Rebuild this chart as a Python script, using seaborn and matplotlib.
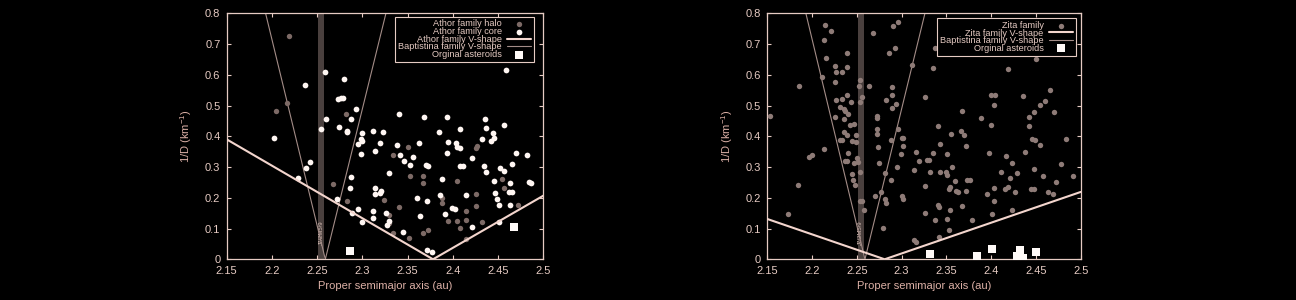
import matplotlib
matplotlib.use("Agg")
import matplotlib.pyplot as plt
import seaborn as sns

# ---------------- data ----------------
halo_a = [2.219, 2.204, 2.217, 2.267, 2.282, 2.283, 2.324, 2.334, 2.340, 2.350, 2.353, 2.367,
          2.367, 2.329, 2.329, 2.351, 2.367, 2.372, 2.334, 2.425, 2.427, 2.405, 2.388, 2.388,
          2.425, 2.425, 2.415, 2.395, 2.404, 2.415, 2.432, 2.408, 2.415, 2.454, 2.456, 2.472]
halo_D = [0.726, 0.482, 0.507, 0.244, 0.471, 0.190, 0.193, 0.339, 0.171, 0.366, 0.272, 0.272,
          0.249, 0.144, 0.117, 0.068, 0.087, 0.095, 0.087, 0.363, 0.368, 0.256, 0.198, 0.184,
          0.211, 0.174, 0.158, 0.126, 0.126, 0.128, 0.122, 0.103, 0.067, 0.261, 0.231, 0.177]

core_a = [2.259, 2.237, 2.260, 2.254, 2.202, 2.242, 2.238, 2.229,
          2.280, 2.273, 2.276, 2.279, 2.293, 2.287, 2.274, 2.283, 2.283,
          2.340, 2.368, 2.385, 2.300, 2.312, 2.323, 2.298, 2.300, 2.295, 2.319, 2.338,
          2.298, 2.314, 2.362, 2.342, 2.346, 2.356, 2.353, 2.370, 2.373, 2.329, 2.287,
          2.286, 2.314, 2.321, 2.319, 2.314, 2.360, 2.371, 2.272, 2.295, 2.288, 2.312,
          2.300, 2.312, 2.326, 2.329, 2.327, 2.364, 2.345, 2.371, 2.377,
          2.459, 2.393, 2.435, 2.408, 2.437, 2.457, 2.444, 2.445, 2.442, 2.395, 2.403,
          2.405, 2.408, 2.432, 2.421, 2.393, 2.470, 2.482, 2.408, 2.411, 2.434, 2.452,
          2.457, 2.465, 2.437, 2.388, 2.445, 2.463, 2.484, 2.486, 2.462, 2.465, 2.447,
          2.414, 2.449, 2.451, 2.463, 2.386, 2.399, 2.402, 2.391, 2.421, 2.451]
core_D = [0.610, 0.567, 0.456, 0.424, 0.394, 0.315, 0.298, 0.265,
          0.586, 0.520, 0.523, 0.525, 0.488, 0.456, 0.429, 0.418, 0.413,
          0.473, 0.464, 0.413, 0.410, 0.417, 0.413, 0.390, 0.385, 0.374, 0.377, 0.372,
          0.342, 0.353, 0.377, 0.339, 0.321, 0.334, 0.307, 0.307, 0.304, 0.280, 0.269,
          0.233, 0.233, 0.222, 0.217, 0.211, 0.198, 0.190, 0.195, 0.164, 0.152, 0.158,
          0.122, 0.133, 0.150, 0.125, 0.112, 0.141, 0.088, 0.030, 0.023,
          0.616, 0.464, 0.456, 0.423, 0.428, 0.437, 0.410, 0.396, 0.386, 0.381, 0.377,
          0.366, 0.361, 0.391, 0.329, 0.347, 0.347, 0.339, 0.304, 0.304, 0.304, 0.298,
          0.288, 0.310, 0.283, 0.260, 0.255, 0.247, 0.252, 0.247, 0.220, 0.220, 0.215,
          0.209, 0.196, 0.177, 0.177, 0.209, 0.166, 0.164, 0.147, 0.106, 0.122]

athor_orig_a = [2.286, 2.468]
athor_orig_D = [0.028, 0.106]

athor_v_a = [2.15, 2.378, 2.50]
athor_v_D = [0.390, 0.0, 0.207]

bapt_v_a = [2.193, 2.259, 2.326]
bapt_v_D = [0.8, 0.0, 0.8]

zita_a = [2.214, 2.221, 2.213, 2.239, 2.216, 2.226, 2.239, 2.227, 2.233, 2.211, 2.226, 2.253,
          2.252, 2.263, 2.185, 2.239, 2.256, 2.253, 2.227, 2.233, 2.243, 2.231, 2.236, 2.237,
          2.240, 2.225, 2.236, 2.242, 2.247, 2.236, 2.239, 2.249, 2.231, 2.233, 2.245, 2.249,
          2.240, 2.250, 2.237, 2.239, 2.247, 2.251, 2.253, 2.245, 2.246, 2.248, 2.200, 2.196,
          2.213, 2.184, 2.153, 2.173, 2.253, 2.256, 2.258,
          2.268, 2.290, 2.296, 2.293, 2.286, 2.311, 2.337, 2.335, 2.289, 2.283, 2.289, 2.294,
          2.289, 2.272, 2.272, 2.272, 2.272, 2.296, 2.326, 2.367, 2.341, 2.355, 2.366, 2.370,
          2.300, 2.302, 2.288, 2.302, 2.274, 2.343, 2.372, 2.299, 2.316, 2.328, 2.330, 2.335,
          2.351, 2.319, 2.275, 2.295, 2.356, 2.314, 2.332, 2.343, 2.350, 2.351, 2.281, 2.288,
          2.360, 2.373, 2.376, 2.326, 2.354, 2.353, 2.361, 2.363, 2.372, 2.277, 2.300, 2.301,
          2.270, 2.281, 2.283, 2.341, 2.342, 2.354, 2.367, 2.326, 2.337, 2.351, 2.378, 2.279,
          2.353, 2.314, 2.316, 2.342,
          2.450, 2.419, 2.466, 2.400, 2.404, 2.435, 2.460, 2.454, 2.403, 2.470, 2.448, 2.389,
          2.442, 2.400, 2.442, 2.446, 2.449, 2.455, 2.483, 2.398, 2.438, 2.416, 2.423, 2.478,
          2.448, 2.411, 2.429, 2.458, 2.491, 2.472, 2.421, 2.403, 2.415, 2.419, 2.427, 2.445,
          2.448, 2.463, 2.469, 2.395, 2.403, 2.423, 2.401]
zita_D = [0.762, 0.744, 0.713, 0.670, 0.653, 0.627, 0.625, 0.609, 0.609, 0.592, 0.576, 0.582,
          0.562, 0.564, 0.564, 0.535, 0.527, 0.511, 0.519, 0.521, 0.510, 0.494, 0.490, 0.481,
          0.474, 0.462, 0.457, 0.438, 0.440, 0.413, 0.403, 0.403, 0.389, 0.387, 0.384, 0.381,
          0.346, 0.330, 0.321, 0.321, 0.314, 0.316, 0.283, 0.278, 0.259, 0.243, 0.338, 0.332,
          0.359, 0.243, 0.467, 0.146, 0.191, 0.191, 0.159,
          0.735, 0.759, 0.771, 0.687, 0.670, 0.632, 0.687, 0.622, 0.560, 0.519, 0.533, 0.505,
          0.492, 0.467, 0.459, 0.425, 0.409, 0.425, 0.528, 0.481, 0.432, 0.409, 0.416, 0.403,
          0.395, 0.395, 0.389, 0.370, 0.364, 0.375, 0.368, 0.343, 0.348, 0.324, 0.324, 0.346,
          0.341, 0.319, 0.314, 0.300, 0.300, 0.289, 0.284, 0.284, 0.284, 0.274, 0.281, 0.257,
          0.256, 0.257, 0.257, 0.238, 0.235, 0.227, 0.222, 0.220, 0.222, 0.218, 0.205, 0.195,
          0.205, 0.195, 0.184, 0.178, 0.170, 0.159, 0.173, 0.149, 0.127, 0.132, 0.128, 0.101,
          0.095, 0.063, 0.056, 0.072,
          0.651, 0.619, 0.551, 0.535, 0.533, 0.530, 0.516, 0.503, 0.501, 0.479, 0.479, 0.459,
          0.462, 0.436, 0.432, 0.391, 0.389, 0.373, 0.391, 0.346, 0.349, 0.337, 0.314, 0.311,
          0.294, 0.284, 0.281, 0.272, 0.272, 0.251, 0.265, 0.232, 0.227, 0.235, 0.218, 0.227,
          0.227, 0.219, 0.213, 0.211, 0.191, 0.159, 0.148]

zita_orig_a = [2.332, 2.384, 2.401, 2.432, 2.429, 2.435, 2.450]
zita_orig_D = [0.018, 0.011, 0.035, 0.029, 0.011, 0.005, 0.024]

zita_v_a = [2.15, 2.281, 2.50]
zita_v_D = [0.131, 0.0, 0.219]

resonance_band = (2.2508, 2.2578)
resonance_label = "J7/2M5/9"

x_ticks = [2.15, 2.2, 2.25, 2.3, 2.35, 2.4, 2.45, 2.5]
y_ticks = [0, 0.1, 0.2, 0.3, 0.4, 0.5, 0.6, 0.7, 0.8]
x_label = "Proper semimajor axis (au)"
y_label = "1/D (km$^{-1}$)"

# ---------------- style ----------------
sns.set_theme(style="ticks")
BG = "#000000"
FG = "#e6cbc3"
LABEL = "#dcb0a6"
plt.rcParams["font.family"] = ["Liberation Sans", "DejaVu Sans"]
plt.rcParams["mathtext.fontset"] = "custom"
plt.rcParams["mathtext.rm"] = "Liberation Sans"

HALO_C = "#7d6a66"
CORE_C = "#fff6f2"
ZITA_C = "#8e7b77"
VLINE_C = "#f3d5cd"
BAPT_C = "#a38c87"
BAND_C = "#4a403e"
SQ_C = "#fffaf8"

fig = plt.figure(figsize=(12.96, 3.0), dpi=100, facecolor=BG)
ax1 = fig.add_axes([0.1749, 0.1357, 0.2444, 0.8200])
ax2 = fig.add_axes([0.5921, 0.1357, 0.2418, 0.8200])


def style_axes(ax):
    ax.set_facecolor(BG)
    ax.set_xlim(2.15, 2.5)
    ax.set_ylim(0, 0.8)
    ax.set_xticks(x_ticks)
    ax.set_xticklabels(["2.15", "2.2", "2.25", "2.3", "2.35", "2.4", "2.45", "2.5"])
    ax.set_yticks(y_ticks)
    ax.set_yticklabels(["0", "0.1", "0.2", "0.3", "0.4", "0.5", "0.6", "0.7", "0.8"])
    for s in ax.spines.values():
        s.set_color(FG)
        s.set_linewidth(0.9)
        s.set_visible(True)
    ax.tick_params(axis="both", direction="in", length=3, width=0.8, color=FG,
                   labelcolor=FG, labelsize=8, top=True, right=True, pad=4.5)
    ax.set_xlabel(x_label, color=LABEL, fontsize=8, labelpad=4)
    ax.set_ylabel(y_label, color=LABEL, fontsize=8, labelpad=8)
    ax.axvspan(resonance_band[0], resonance_band[1], color=BAND_C, lw=0, zorder=0.5)
    ax.text(sum(resonance_band) / 2, 0.088, resonance_label, rotation=90, fontsize=4.3,
            color="#d9c0b8", ha="center", va="center", zorder=0.6)


def make_legend(ax, anchor):
    leg = ax.legend(loc="upper right", bbox_to_anchor=anchor, borderaxespad=0,
                    markerfirst=False, fontsize=6.6, frameon=True, fancybox=False,
                    facecolor=BG, edgecolor=FG, framealpha=1, labelspacing=-0.15,
                    handlelength=2.6, handletextpad=0.6, borderpad=0.3)
    leg.get_frame().set_linewidth(0.8)
    for t in leg.get_texts():
        t.set_color(FG)
    return leg


# ---- left panel: Athor ----
style_axes(ax1)
sns.scatterplot(x=halo_a, y=halo_D, ax=ax1, color=HALO_C, s=15, linewidth=0,
                label="Athor family halo", zorder=3)
sns.scatterplot(x=core_a, y=core_D, ax=ax1, color=CORE_C, s=17, linewidth=0,
                label="Athor family core", zorder=3)
sns.lineplot(x=athor_v_a, y=athor_v_D, ax=ax1, color=VLINE_C, lw=1.5, estimator=None,
             label="Athor family V-shape", zorder=4)
sns.lineplot(x=bapt_v_a, y=bapt_v_D, ax=ax1, color=BAPT_C, lw=0.8, estimator=None,
             label="Baptistina family V-shape", zorder=2)
sns.scatterplot(x=athor_orig_a, y=athor_orig_D, ax=ax1, color=SQ_C, marker="s", s=30,
                linewidth=0, label="Orginal asteroids", zorder=5)
make_legend(ax1, (0.970, 0.986))
ax1.set_xlim(2.15, 2.5)
ax1.set_ylim(0, 0.8)

# ---- right panel: Zita ----
style_axes(ax2)
sns.scatterplot(x=zita_a, y=zita_D, ax=ax2, color=ZITA_C, s=15, linewidth=0,
                label="Zita family", zorder=3)
sns.lineplot(x=zita_v_a, y=zita_v_D, ax=ax2, color=VLINE_C, lw=1.5, estimator=None,
             label="Zita family V-shape", zorder=4)
sns.lineplot(x=bapt_v_a, y=bapt_v_D, ax=ax2, color=BAPT_C, lw=0.8, estimator=None,
             label="Baptistina family V-shape", zorder=2)
sns.scatterplot(x=zita_orig_a, y=zita_orig_D, ax=ax2, color=SQ_C, marker="s", s=30,
                linewidth=0, label="Orginal asteroids", zorder=5)
make_legend(ax2, (0.984, 0.980))
ax2.set_xlim(2.15, 2.5)
ax2.set_ylim(0, 0.8)

fig.savefig("out.png", dpi=100, facecolor=BG)
